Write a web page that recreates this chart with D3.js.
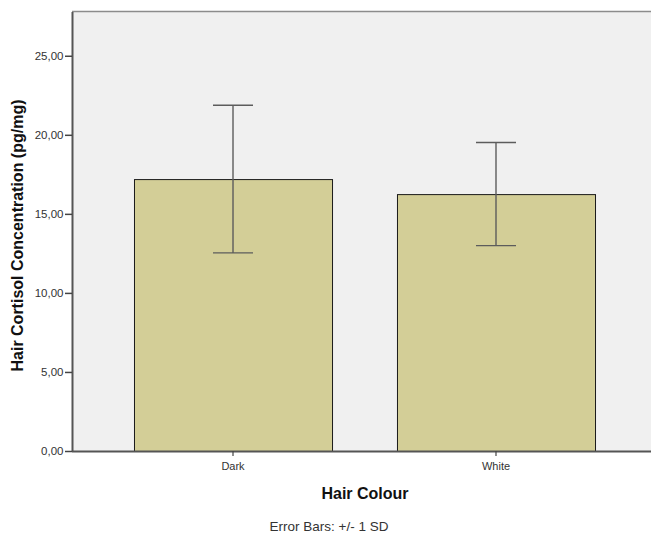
<!DOCTYPE html>
<html>
<head>
<meta charset="utf-8">
<script src="https://cdn.jsdelivr.net/npm/d3@7"></script>
<style>
  html, body { margin: 0; padding: 0; background: #ffffff; }
  svg { display: block; }
  text { font-family: Arial, "Liberation Sans", sans-serif; }
</style>
</head>
<body>
<svg id="chart" width="651" height="535"></svg>
<script>
// Hair cortisol by hair colour: mean with +/- 1 SD
const categories = ["Dark", "White"];
const means = [17.20, 16.25];
const sds = [4.67, 3.26];
const yTicks = [0, 5, 10, 15, 20, 25];

const svg = d3.select("#chart");
const plotLeft = 72, plotRight = 657, plotTop = 11.5, plotBottom = 451;

const x = d3.scaleBand()
  .domain(categories)
  .range([plotLeft, plotRight])
  .paddingInner(0.247)
  .paddingOuter(0.2357);

const y = d3.scaleLinear().domain([0, 27.8]).range([plotBottom, plotTop]);

const fmt = v => d3.format(".2f")(v).replace(".", ",");

// plot background
svg.append("rect")
  .attr("x", plotLeft).attr("y", plotTop)
  .attr("width", plotRight - plotLeft).attr("height", plotBottom - plotTop)
  .attr("fill", "#f0f0f0");

// top frame line
svg.append("line")
  .attr("x1", plotLeft).attr("x2", plotRight)
  .attr("y1", plotTop).attr("y2", plotTop)
  .attr("stroke", "#8c8c8c").attr("stroke-width", 1.5);

const data = categories.map((c, i) => ({ c, m: means[i], sd: sds[i] }));

// bars
svg.append("g").selectAll("rect").data(data).join("rect")
  .attr("x", d => x(d.c) + 0.5)
  .attr("y", d => y(d.m) + 0.5)
  .attr("width", x.bandwidth())
  .attr("height", d => plotBottom - y(d.m))
  .attr("fill", "#d3ce97")
  .attr("stroke", "#1a1a1a")
  .attr("stroke-width", 1);

// error bars
const eb = svg.append("g").attr("stroke", "#5c5c5c").attr("stroke-width", 1.4).attr("fill", "none");
const capHalf = 20;
data.forEach(d => {
  const cx = x(d.c) + x.bandwidth() / 2;
  eb.append("line").attr("x1", cx).attr("x2", cx)
    .attr("y1", y(d.m + d.sd)).attr("y2", y(d.m - d.sd));
  eb.append("line").attr("x1", cx - capHalf).attr("x2", cx + capHalf)
    .attr("y1", y(d.m + d.sd)).attr("y2", y(d.m + d.sd));
  eb.append("line").attr("x1", cx - capHalf).attr("x2", cx + capHalf)
    .attr("y1", y(d.m - d.sd)).attr("y2", y(d.m - d.sd));
});

// y axis
const yAxis = svg.append("g")
  .attr("transform", `translate(${plotLeft},0)`)
  .call(d3.axisLeft(y).tickValues(yTicks).tickFormat(fmt).tickSize(7).tickSizeOuter(0));
yAxis.select(".domain").attr("stroke", "#555555").attr("stroke-width", 2);
yAxis.selectAll(".tick line").attr("stroke", "#444444").attr("stroke-width", 1.5);
yAxis.selectAll(".tick text")
  .attr("x", -8.5)
  .attr("fill", "#333333")
  .style("font-size", "11.5px");

// x axis
const xAxis = svg.append("g")
  .attr("transform", `translate(0,${plotBottom})`)
  .call(d3.axisBottom(x).tickSize(5).tickSizeOuter(0));
xAxis.select(".domain")
  .attr("d", `M${plotLeft},0.5H${plotRight}`)
  .attr("stroke", "#555555").attr("stroke-width", 2);
xAxis.selectAll(".tick line").attr("stroke", "#444444").attr("stroke-width", 1.2);
xAxis.selectAll(".tick text")
  .attr("y", 11.5)
  .attr("fill", "#333333")
  .style("font-size", "11px");

// axis titles
svg.append("text")
  .attr("x", 365).attr("y", 498.5)
  .attr("text-anchor", "middle")
  .attr("font-weight", "bold")
  .attr("font-size", 16)
  .attr("fill", "#111111")
  .text("Hair Colour");

svg.append("text")
  .attr("transform", "translate(23,235.5) rotate(-90)")
  .attr("text-anchor", "middle")
  .attr("font-weight", "bold")
  .attr("font-size", 16)
  .attr("fill", "#111111")
  .text("Hair Cortisol Concentration (pg/mg)");

svg.append("text")
  .attr("x", 329).attr("y", 530.5)
  .attr("text-anchor", "middle")
  .attr("font-size", 13.5)
  .attr("fill", "#333333")
  .text("Error Bars: +/- 1 SD");
</script>
</body>
</html>
